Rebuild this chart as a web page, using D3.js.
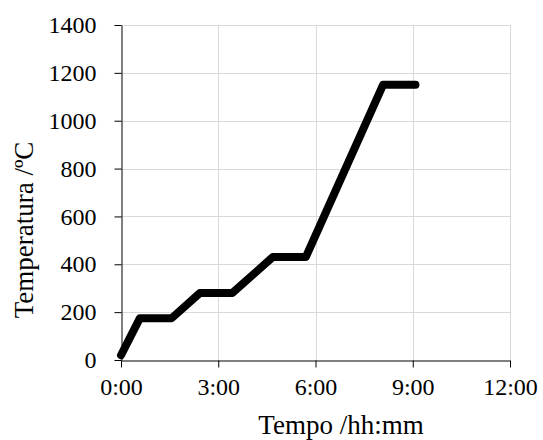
<!DOCTYPE html>
<html>
<head>
<meta charset="utf-8">
<script src="https://cdn.jsdelivr.net/npm/d3@7"></script>
<style>
  html, body { margin: 0; padding: 0; background: #fff; }
  svg { display: block; }
  text { font-family: "Liberation Serif", "Times New Roman", serif; fill: #000; }
</style>
</head>
<body>
<svg id="chart" width="543" height="440"></svg>
<script>
// Firing schedule: elapsed time (minutes) and furnace temperature (ºC)
const timeMinutes = [0, 35, 94, 146, 206, 281, 342, 485, 545];
const temperature = [20, 175, 175, 280, 280, 430, 430, 1150, 1150];

// Axis ticks
const xTicks = [0, 180, 360, 540, 720];          // 0:00 … 12:00
const yTicks = [0, 200, 400, 600, 800, 1000, 1200, 1400];

const xTitle = "Tempo /hh:mm";
const yTitle = "Temperatura /ºC";

const svg = d3.select("#chart");
const margin = { top: 25, right: 33, bottom: 80, left: 121 };
const W = +svg.attr("width"), H = +svg.attr("height");
const innerW = W - margin.left - margin.right;
const innerH = H - margin.top - margin.bottom;

const x = d3.scaleLinear().domain([0, 720]).range([margin.left, margin.left + innerW]);
const y = d3.scaleLinear().domain([0, 1400]).range([margin.top + innerH, margin.top]);

const fmtTime = m => `${Math.floor(m / 60)}:${String(m % 60).padStart(2, "0")}`;

// Gridlines
const grid = svg.append("g").attr("stroke", "#d9d9d9").attr("stroke-width", 1);
grid.selectAll(".hg").data(yTicks.filter(d => d > 0)).join("line")
  .attr("x1", x(0)).attr("x2", x(720))
  .attr("y1", d => Math.round(y(d)) + 0.5).attr("y2", d => Math.round(y(d)) + 0.5);
grid.selectAll(".vg").data(xTicks.filter(d => d > 0)).join("line")
  .attr("y1", y(0)).attr("y2", y(1400))
  .attr("x1", d => Math.round(x(d)) + 0.5).attr("x2", d => Math.round(x(d)) + 0.5);

// Axes
const xAxis = d3.axisBottom(x).tickValues(xTicks).tickFormat(fmtTime)
  .tickSizeInner(7).tickSizeOuter(0).tickPadding(10);
const yAxis = d3.axisLeft(y).tickValues(yTicks).tickFormat(d3.format("d"))
  .tickSizeInner(7).tickSizeOuter(0).tickPadding(18);

const gx = svg.append("g")
  .attr("transform", `translate(0,${Math.round(y(0)) + 0.5})`)
  .call(xAxis);
const gy = svg.append("g")
  .attr("transform", `translate(${Math.round(x(0)) + 0.5},0)`)
  .call(yAxis);

[gx, gy].forEach(g => {
  g.select(".domain").attr("stroke", "#000").attr("stroke-width", 1);
  g.selectAll(".tick line").attr("stroke", "#000");
  g.selectAll(".tick text").attr("font-size", 24)
    .attr("font-family", "'Liberation Serif', 'Times New Roman', serif");
});
gx.selectAll(".tick text").attr("dy", "0.71em");

// Temperature curve
const points = timeMinutes.map((t, i) => [t, temperature[i]]);
svg.append("path")
  .datum(points)
  .attr("fill", "none")
  .attr("stroke", "#000")
  .attr("stroke-width", 8)
  .attr("stroke-linejoin", "round")
  .attr("stroke-linecap", "round")
  .attr("d", d3.line().x(d => x(d[0])).y(d => y(d[1])));

// Axis titles
svg.append("text")
  .attr("x", 341).attr("y", 434)
  .attr("text-anchor", "middle")
  .attr("font-size", 27)
  .text(xTitle);

svg.append("text")
  .attr("transform", "translate(33,230) rotate(-90)")
  .attr("text-anchor", "middle")
  .attr("font-size", 27)
  .text(yTitle);
</script>
</body>
</html>
